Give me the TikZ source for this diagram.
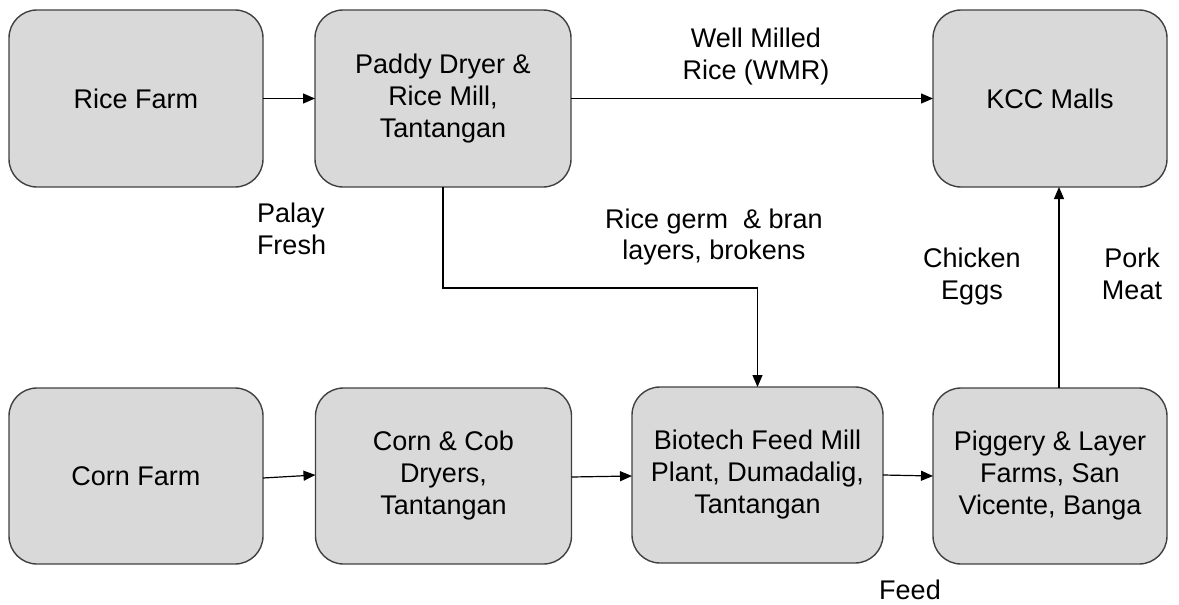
\documentclass[tikz,border=0pt]{standalone}
\usepackage{fontspec}
\setmainfont{Liberation Sans}
\usetikzlibrary{arrows.meta}
\definecolor{boxfill}{HTML}{D9D9D9}
\definecolor{boxline}{HTML}{404040}
\begin{document}
\begin{tikzpicture}[x=1pt,y=-1pt,
  every node/.style={font=\fontsize{27}{32}\selectfont, inner sep=0pt, outer sep=0pt},
  stage/.style={draw=boxline, fill=boxfill, line width=1.4pt, rounded corners=28pt,
    align=center, minimum height=177pt},
  lbl/.style={align=center, anchor=base},
  arr/.style={draw=black, line width=1.2pt, -{Triangle[length=12pt,width=10pt]}}]
\useasboundingbox (0,0) rectangle (1179,605);
% boxes
\node[stage, minimum width=254pt] (rice) at (136,98.5) {Rice Farm};
\node[stage, minimum width=256pt] (paddy) at (443,98.5) {Paddy Dryer \&\\Rice Mill,\\Tantangan};
\node[stage, minimum width=234pt] (kcc) at (1050,98.5) {KCC Malls};
\node[stage, minimum width=254pt, minimum height=176pt] (corn) at (136,476) {Corn Farm};
\node[stage, minimum width=256pt, minimum height=176pt] (cob) at (443.5,476) {Corn \& Cob\\Dryers,\\Tantangan};
\node[stage, minimum width=251pt, minimum height=176pt] (bio) at (757.5,475) {Biotech Feed Mill\\Plant, Dumadalig,\\Tantangan};
\node[stage, minimum width=234pt, minimum height=176pt] (pig) at (1050,476) {Piggery \& Layer\\Farms, San\\Vicente, Banga};
% labels (base anchor = baseline of the last line)
\node[lbl] (wmr) at (756,79) {Well Milled\\Rice (WMR)};
\node[align=left, anchor=base west] (palay) at (257,254) {Palay\\Fresh};
\node[lbl, font=\fontsize{27}{31}\selectfont] (germ) at (714,259) {Rice germ\ \ \& bran\\layers, brokens};
\node[lbl] (eggs) at (972,299) {Chicken\\Eggs};
\node[lbl] (pork) at (1132,299) {Pork\\Meat};
\node[lbl] (feed) at (910,599) {Feed};
% connectors
\coordinate (px) at (1059,0);
\draw[arr] (rice.east) -- (paddy.west);
\draw[arr] (paddy.east) -- (kcc.west);
\draw[arr] (paddy.south) -- ++(0,101) -| (bio.north);
\draw[arr] ([yshift=-2pt]corn.east) -- ([yshift=1pt]cob.west);
\draw[arr] ([yshift=-1pt]cob.east) -- ([yshift=-1pt]bio.west);
\draw[arr] (bio.east) -- (pig.west);
\draw[arr] (pig.north -| px) -- (kcc.south -| px);
\end{tikzpicture}
\end{document}
